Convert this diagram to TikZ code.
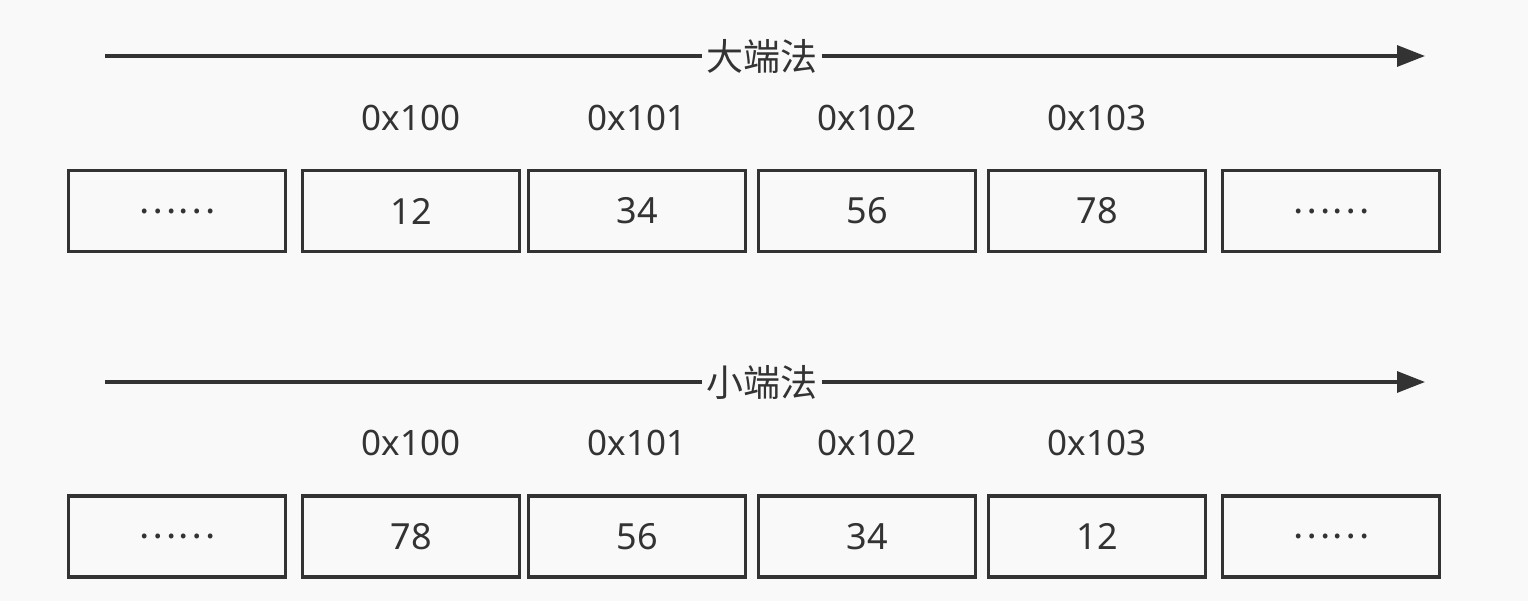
\documentclass[tikz,border=0pt]{standalone}
\usepackage{fontspec}
\setmainfont{Noto Sans}
\newfontfamily\cjk{Noto Sans CJK SC}
\usetikzlibrary{arrows.meta}
\definecolor{bgc}{HTML}{F9F9F9}
\definecolor{ink}{HTML}{333333}
\tikzset{
  cell/.style={draw=ink, line width=3.4pt, minimum width=217pt, minimum height=81pt, inner sep=0pt, text=ink, font=\fontsize{36}{36}\selectfont},
  addr/.style={text=ink, inner sep=0pt, font=\fontsize{35}{35}\selectfont},
  axis/.style={draw=ink, line width=3.2pt},
  axislabel/.style={text=ink, inner sep=4pt, font=\cjk\fontsize{37}{37}\selectfont},
  tip/.style={-{Triangle[length=28pt,width=21pt]}}
}
\begin{document}
\begin{tikzpicture}[x=1pt,y=-1pt]
\fill[bgc] (0,0) rectangle (1528,601);
\useasboundingbox (0,0) rectangle (1528,601);
% row 1
\coordinate (s1) at (105,56);
\coordinate (e1) at (1425,56);
\node[axislabel] (l1) at (762,56) {大端法};
\draw[axis] (s1) -- (l1.west);
\draw[axis,tip] (l1.east) -- (e1);
\node[addr] (a11) at (411,118) {0x100};
\node[addr] (a12) at (637,118) {0x101};
\node[addr] (a13) at (867,118) {0x102};
\node[addr] (a14) at (1097,118) {0x103};
\node[cell] (b10) at (177,211) {\cjk ……};
\node[cell] (b11) at (411,211) {12};
\node[cell] (b12) at (637,211) {34};
\node[cell] (b13) at (867,211) {56};
\node[cell] (b14) at (1097,211) {78};
\node[cell] (b15) at (1331,211) {\cjk ……};
% row 2
\coordinate (s2) at (105,382);
\coordinate (e2) at (1425,382);
\node[axislabel] (l2) at (762,382) {小端法};
\draw[axis] (s2) -- (l2.west);
\draw[axis,tip] (l2.east) -- (e2);
\node[addr] (a21) at (411,443) {0x100};
\node[addr] (a22) at (637,443) {0x101};
\node[addr] (a23) at (867,443) {0x102};
\node[addr] (a24) at (1097,443) {0x103};
\node[cell] (b20) at (177,536.5) {\cjk ……};
\node[cell] (b21) at (411,536.5) {78};
\node[cell] (b22) at (637,536.5) {56};
\node[cell] (b23) at (867,536.5) {34};
\node[cell] (b24) at (1097,536.5) {12};
\node[cell] (b25) at (1331,536.5) {\cjk ……};
\end{tikzpicture}
\end{document}
